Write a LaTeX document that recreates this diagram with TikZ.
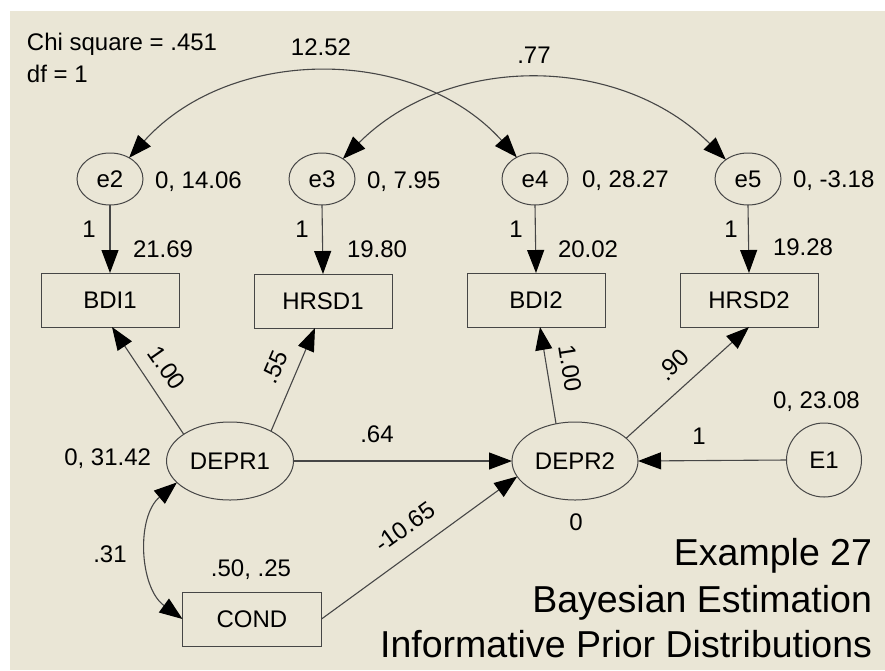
\documentclass[tikz,border=0pt]{standalone}
\usepackage{fontspec}
\setmainfont{Liberation Sans}
\usetikzlibrary{arrows.meta,shapes.geometric}
\definecolor{bg}{RGB}{234,230,214}
\definecolor{ln}{RGB}{70,70,70}
\begin{document}
\begin{tikzpicture}[x=1pt,y=1pt,
  every node/.style={font=\fontsize{24}{28}\selectfont, inner sep=0pt, outer sep=0pt},
  lat/.style={ellipse, draw=ln, line width=1pt},
  err/.style={lat, minimum width=66pt, minimum height=52pt},
  obs/.style={rectangle, draw=ln, line width=1pt, minimum width=138pt, minimum height=54pt},
  arr/.style={draw=ln, line width=1.1pt, -{Triangle[length=23pt,width=17pt,color=black]}},
  darr/.style={draw=ln, line width=1.1pt, {Triangle[length=23pt,width=17pt,color=black]}-{Triangle[length=23pt,width=17pt,color=black]}},
  lab/.style={anchor=base},
  labw/.style={anchor=base west},
  labe/.style={anchor=base east},
  big/.style={anchor=base east, font=\fontsize{37.5}{42}\selectfont}
]
\useasboundingbox (0,0) rectangle (885,-670);
\fill[white] (0,0) rectangle (885,-670);
\fill[bg] (10,-11) rectangle (885,-670);

% error terms
\node[err] (e2) at (110,-179) {e2};
\node[err] (e3) at (322,-179) {e3};
\node[err] (e4) at (535,-179) {e4};
\node[err] (e5) at (748,-179) {e5};

% observed
\node[obs] (BDI1) at (110,-300) {BDI1};
\node[obs] (HRSD1) at (323,-301) {HRSD1};
\node[obs] (BDI2) at (536,-300) {BDI2};
\node[obs] (HRSD2) at (749,-300) {HRSD2};
\node[obs, minimum width=139pt] (COND) at (252,-619) {COND};

% latent
\node[lat, minimum width=127pt, minimum height=78pt] (DEPR1) at (230,-461) {DEPR1};
\node[lat, minimum width=126pt, minimum height=78pt] (DEPR2) at (575,-461) {DEPR2};
\node[lat, minimum width=75pt, minimum height=74pt] (E1) at (824,-460) {E1};

% paths
\draw[arr] (e2.south) -- (BDI1.north);
\draw[arr] (e3.south) -- (HRSD1.north);
\draw[arr] (e4.south) -- (BDI2.north);
\draw[arr] (e5.south) -- (HRSD2.north);
\draw[arr] (DEPR1.150) -- ([xshift=2pt]BDI1.south);
\draw[arr] (DEPR1.36) -- ([xshift=-8pt]HRSD1.south);
\draw[arr] (DEPR1.east) -- (DEPR2.west);
\draw[arr] (DEPR2.117) -- ([xshift=4pt]BDI2.south);
\draw[arr] (DEPR2.24) -- (HRSD2.south);
\draw[arr] (E1.west) -- (DEPR2.east);
\draw[arr] (COND.east) -- (DEPR2.195);
\draw[darr] (DEPR1.202) to[out=220,in=144] (COND.west);
\draw[darr] (e2.48) to[out=48,in=132] (e4.130);
\draw[darr] (e3.44) to[out=45,in=135] (e5.139);

% labels
\node[labw] (chi) at (27,-50) {Chi square = .451};
\node[labw] (df) at (27,-82) {df = 1};
\node[lab] (c1) at (321,-55) {12.52};
\node[lab] (c2) at (534,-63) {.77};

\node[labw] (v2) at (155,-188) {0, 14.06};
\node[labw] (v3) at (367,-188) {0, 7.95};
\node[labw] (v4) at (582,-187) {0, 28.27};
\node[labw] (v5) at (793,-187) {0, -3.18};

\node[lab] (o2) at (89,-237) {1};
\node[lab] (o3) at (302,-237) {1};
\node[lab] (o4) at (516,-237) {1};
\node[lab] (o5) at (731,-237) {1};

\node[labw] (i1) at (133,-257) {21.69};
\node[labw] (i2) at (347,-257) {19.80};
\node[labw] (i3) at (558,-257) {20.02};
\node[labw] (i4) at (773,-255) {19.28};

\node[rotate=-55] (w1) at (167,-368) {1.00};
\node[rotate=67] (w2) at (275,-367) {.55};
\node[rotate=-81] (w3) at (570,-368) {1.00};
\node[rotate=45] (w4) at (673,-365) {.90};
\node[rotate=36] (w5) at (405,-527) {-10.65};

\node[lab] (b1) at (377,-442) {.64};
\node[lab] (b2) at (699,-444) {1};
\node[labe] (vd1) at (151,-465) {0, 31.42};
\node[labw] (ve1) at (773,-408) {0, 23.08};
\node[lab] (vd2) at (576,-530) {0};
\node[lab] (cv) at (110,-562) {.31};
\node[lab] (mc) at (251,-576) {.50, .25};

\node[big] (t1) at (872,-565) {Example 27};
\node[big] (t2) at (872,-612) {Bayesian Estimation};
\node[big] (t3) at (872,-657) {Informative Prior Distributions};
\end{tikzpicture}
\end{document}
